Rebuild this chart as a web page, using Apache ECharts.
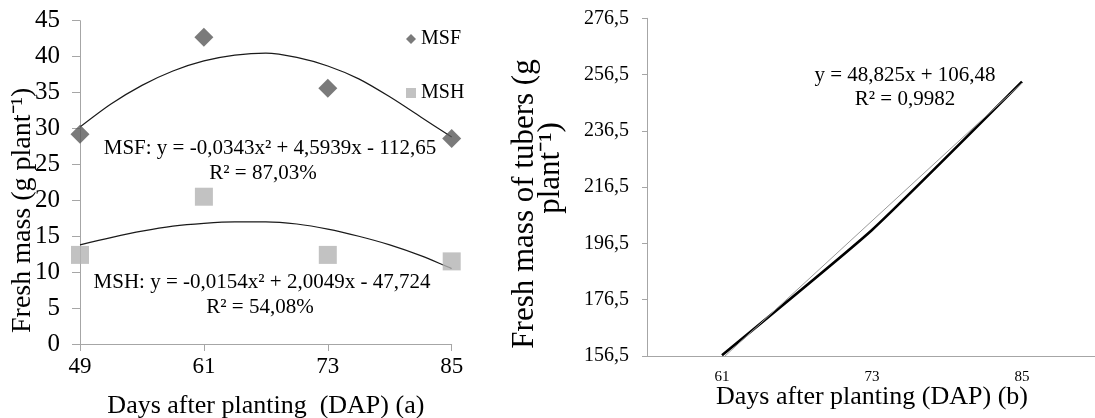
<!DOCTYPE html>
<html>
<head>
<meta charset="utf-8">
<script src="https://cdn.jsdelivr.net/npm/echarts@6/dist/echarts.min.js"></script>
<style>
html, body { margin: 0; padding: 0; background: #fff; }
#main { width: 1095px; height: 418px; }
</style>
</head>
<body>
<div id="main"></div>
<script>
// (a) fresh mass of shoots - points
var days = [49, 61, 73, 85];
var msf = [29.2, 42.7, 35.6, 28.6];
var msh = [12.4, 20.5, 12.4, 11.5];
// (a) trend curves
var curveDays = [49, 52, 55, 58, 61, 64, 67, 70, 73, 76, 79, 82, 85];
var msfCurve = [30.2, 33.4, 36.0, 38.0, 39.4, 40.2, 40.5, 39.9, 38.7, 36.9, 34.4, 31.6, 28.8];
var mshCurve = [13.8, 14.8, 15.7, 16.4, 16.8, 17.0, 17.0, 16.7, 16.0, 15.0, 13.8, 12.3, 10.5];

// (b) fresh mass of tubers
var dapB = ['61', '73', '85'];
var tubers = [156.8, 201.3, 254.0];
var tubersTrend = [155.5, 204.5, 253.5];
var yTicksB = [156.5, 176.5, 196.5, 216.5, 236.5, 256.5, 276.5];

var font = 'Liberation Serif';
var axisGray = '#a6a6a6';

function pairs(xs, ys) {
	var out = [];
	for (var i = 0; i < xs.length; i++) {
		out.push([xs[i], ys[i]]);
	}
	return out;
}

function comma(v) {
	return String(v).replace('.', ',');
}

// equation texts
function note(x, y, text) {
	return {
		type: 'text', x: x, y: y,
		style: { text: text, font: '21px "Liberation Serif"', fill: '#000', align: 'center', verticalAlign: 'middle' }
	};
}

// rotated title line for panel (b)
function vtitle(x, y, text) {
	return {
		type: 'text', x: x, y: y, rotation: Math.PI / 2,
		style: { text: text, font: '31px "Liberation Serif"', fill: '#000', align: 'center', verticalAlign: 'middle' }
	};
}

var myChart = echarts.init(document.getElementById('main'));

var option = {
	animation: false,
	textStyle: { fontFamily: font, color: '#000' },
	grid: [
		{ left: 80, top: 20.7, width: 371.7, height: 323.3, outerBoundsMode: 'none' },
		{ left: 647, top: 18.3, width: 450, height: 337.7, outerBoundsMode: 'none' }
	],
	legend: {
		data: [
			{ name: 'MSF', icon: 'diamond' },
			{ name: 'MSH', icon: 'rect' }
		],
		orient: 'vertical',
		left: 401,
		top: 24,
		itemWidth: 10,
		itemHeight: 10,
		itemGap: 34,
		textStyle: { fontFamily: font, fontSize: 20, color: '#000' }
	},
	xAxis: [
		{
			gridIndex: 0,
			type: 'value',
			min: 49,
			max: 85,
			name: 'Days after planting  (DAP) (a)',
			nameLocation: 'middle',
			nameGap: 49,
			nameMoveOverlap: false,
			nameTextStyle: { fontFamily: font, fontSize: 26, color: '#000' },
			axisLine: { lineStyle: { color: axisGray } },
			axisTick: { length: 7, customValues: days, lineStyle: { color: axisGray } },
			axisLabel: { customValues: days, margin: 11, fontFamily: font, fontSize: 23, color: '#000' },
			splitLine: { show: false }
		},
		{
			gridIndex: 1,
			type: 'category',
			data: dapB,
			boundaryGap: true,
			name: 'Days after planting (DAP) (b)',
			nameLocation: 'middle',
			nameGap: 28,
			nameMoveOverlap: false,
			nameTextStyle: { fontFamily: font, fontSize: 26, color: '#000' },
			axisLine: { lineStyle: { color: axisGray } },
			axisTick: { length: 8, lineStyle: { color: axisGray } },
			axisLabel: { margin: 14, fontFamily: font, fontSize: 15, color: '#000' }
		}
	],
	yAxis: [
		{
			gridIndex: 0,
			type: 'value',
			min: 0,
			max: 45,
			interval: 5,
			name: 'Fresh mass (g plant\u207b\u00b9)',
			nameLocation: 'middle',
			nameGap: 43,
			nameMoveOverlap: false,
			nameTextStyle: { fontFamily: font, fontSize: 28, color: '#000', padding: [0, 56, 0, 0] },
			axisLine: { show: true, lineStyle: { color: axisGray } },
			axisTick: { show: true, length: 8, lineStyle: { color: axisGray } },
			axisLabel: { margin: 20, fontFamily: font, fontSize: 25, color: '#000' },
			splitLine: { show: false }
		},
		{
			gridIndex: 1,
			type: 'value',
			min: 156.5,
			max: 276.5,
			axisLine: { show: true, lineStyle: { color: axisGray } },
			axisTick: { show: true, length: 5, customValues: yTicksB, lineStyle: { color: axisGray } },
			axisLabel: {
				customValues: yTicksB,
				margin: 18,
				fontFamily: font,
				fontSize: 20,
				color: '#000',
				formatter: function (v) { return comma(v); }
			},
			splitLine: { show: false }
		}
	],
	graphic: [
		note(270, 148, 'MSF: y = -0,0343x\u00b2 + 4,5939x - 112,65'),
		note(263, 173, 'R\u00b2 = 87,03%'),
		note(262, 282, 'MSH: y = -0,0154x\u00b2 + 2,0049x - 47,724'),
		note(260, 307, 'R\u00b2 = 54,08%'),
		note(905, 75, 'y = 48,825x + 106,48'),
		note(905, 99, 'R\u00b2 = 0,9982'),
		vtitle(525, 204, 'Fresh mass of tubers (g'),
		vtitle(551, 168, 'plant\u207b\u00b9)')
	],
	series: [
		{
			name: 'MSF trend',
			type: 'line',
			xAxisIndex: 0,
			yAxisIndex: 0,
			data: pairs(curveDays, msfCurve),
			smooth: 0.3,
			showSymbol: false,
			lineStyle: { color: '#1a1a1a', width: 1.2 },
			z: 1
		},
		{
			name: 'MSH trend',
			type: 'line',
			xAxisIndex: 0,
			yAxisIndex: 0,
			data: pairs(curveDays, mshCurve),
			smooth: 0.3,
			showSymbol: false,
			lineStyle: { color: '#1a1a1a', width: 1.2 },
			z: 1
		},
		{
			name: 'MSF',
			type: 'scatter',
			xAxisIndex: 0,
			yAxisIndex: 0,
			data: pairs(days, msf),
			symbol: 'diamond',
			symbolSize: [19, 19],
			itemStyle: { color: '#595959' },
			z: 3
		},
		{
			name: 'MSH',
			type: 'scatter',
			xAxisIndex: 0,
			yAxisIndex: 0,
			data: pairs(days, msh),
			symbol: 'rect',
			symbolSize: 18,
			itemStyle: { color: '#b3b3b3' },
			z: 3
		},
		{
			name: 'Tubers',
			type: 'line',
			xAxisIndex: 1,
			yAxisIndex: 1,
			data: tubers,
			smooth: 0.15,
			showSymbol: false,
			clip: true,
			lineStyle: { color: '#000', width: 2.6 }
		},
		{
			name: 'Tubers trend',
			type: 'line',
			xAxisIndex: 1,
			yAxisIndex: 1,
			data: tubersTrend,
			showSymbol: false,
			clip: true,
			lineStyle: { color: '#9a9a9a', width: 1 }
		}
	]
};

myChart.setOption(option);
</script>
</body>
</html>
